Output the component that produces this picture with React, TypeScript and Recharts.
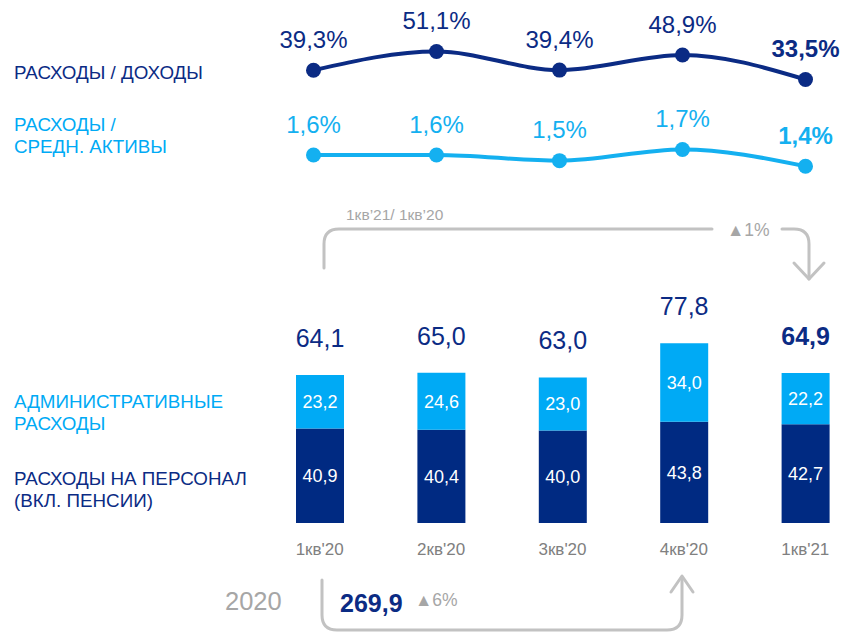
import React from 'react';
import { BarChart, Bar, XAxis, YAxis, LineChart, Line, LabelList } from 'recharts';

const quarters = ["1кв'20", "2кв'20", "3кв'20", "4кв'20", "1кв'21"];
const staffCosts = [40.9, 40.4, 40.0, 43.8, 42.7];
const adminCosts = [23.2, 24.6, 23.0, 34.0, 22.2];
const costIncome = [39.3, 51.1, 39.4, 48.9, 33.5];
const costAssets = [1.6, 1.6, 1.5, 1.7, 1.4];

const NAVY = '#0b2b84';
const DARK = '#002a82';
const LIGHT = '#00aaf5';
const LIGHT_LINE = '#14b0f0';
const GRAY = '#c2c2c2';
const GRAY_TEXT = '#a6a6a6';
const FONT = '"Liberation Sans", Arial, sans-serif';

const fmt = (v: number) => v.toFixed(1).replace('.', ',');

const lineData = quarters.map((q, i) => ({ q, ci: costIncome[i], ca: costAssets[i] }));
const barData = quarters.map((q, i) => ({ q, staff: staffCosts[i], admin: adminCosts[i] }));
const last = quarters.length - 1;

const pctLabel = (color: string) => (props: any) => {
  const { x, y, value, index } = props;
  return (
    <text
      x={x}
      y={y - 31}
      textAnchor="middle"
      dominantBaseline="central"
      fill={color}
      fontSize={24}
      fontWeight={index === last ? 'bold' : 'normal'}
      fontFamily={FONT}
    >
      {fmt(value)}%
    </text>
  );
};

const TotalLabel = (props: any) => {
  const { x, y, width, index } = props;
  const total = staffCosts[index] + adminCosts[index];
  return (
    <text
      x={x + width / 2}
      y={y - 37}
      textAnchor="middle"
      dominantBaseline="central"
      fill={NAVY}
      fontSize={25}
      fontWeight={index === last ? 'bold' : 'normal'}
      fontFamily={FONT}
    >
      {fmt(total)}
    </text>
  );
};

const Annotations = () => (
  <svg width={843} height={632} style={{ position: 'absolute', left: 0, top: 0, pointerEvents: 'none' }}>
    <g fontFamily={FONT} fontSize={18.8}>
      <text x={14} y={72} fill={NAVY} dominantBaseline="central">РАСХОДЫ / ДОХОДЫ</text>
      <text x={14} y={124} fill={LIGHT} dominantBaseline="central">РАСХОДЫ /</text>
      <text x={14} y={146} fill={LIGHT} dominantBaseline="central">СРЕДН. АКТИВЫ</text>
      <text x={14} y={401} fill={LIGHT} dominantBaseline="central">АДМИНИСТРАТИВНЫЕ</text>
      <text x={14} y={423} fill={LIGHT} dominantBaseline="central">РАСХОДЫ</text>
      <text x={14} y={478} fill={NAVY} dominantBaseline="central">РАСХОДЫ НА ПЕРСОНАЛ</text>
      <text x={14} y={500} fill={NAVY} dominantBaseline="central">(ВКЛ. ПЕНСИИ)</text>
    </g>
    {/* comparison arrows */}
    <g fill="none" stroke={GRAY} strokeWidth={3} strokeLinecap="round" strokeLinejoin="round">
      <path d="M 324 268 V 244 Q 324 229 339 229 H 712" />
      <path d="M 782 229 H 794 Q 809 229 809 244 V 279" />
      <path d="M 794 263 L 809 279 L 824 263" />
      <path d="M 322 580 V 615 Q 322 630 337 630 H 667 Q 682 630 682 615 V 577" />
      <path d="M 671 592 L 682 576 L 693 592" />
    </g>
    <g fontFamily={FONT}>
      <text x={346} y={214} fill={GRAY_TEXT} fontSize={15.5} dominantBaseline="central">1кв’21/ 1кв’20</text>
      <text x={727} y={230} fill={GRAY_TEXT} fontSize={17.5} dominantBaseline="central">▲1%</text>
      <text x={225} y={601} fill={GRAY_TEXT} fontSize={25.5} dominantBaseline="central">2020</text>
      <text x={340} y={603} fill={NAVY} fontSize={25} fontWeight="bold" dominantBaseline="central">269,9</text>
      <text x={415} y={600} fill={GRAY_TEXT} fontSize={17.5} dominantBaseline="central">▲6%</text>
    </g>
  </svg>
);

export default function App() {
  return (
    <div style={{ position: 'absolute', left: 0, top: 0, width: 843, height: 632, overflow: 'hidden', background: '#fff', fontFamily: FONT }}>
      <div style={{ position: 'absolute', left: 0, top: 0 }}>
        <LineChart width={867} height={200} data={lineData} margin={{ top: 0, right: 0, bottom: 0, left: 252 }}>
          <XAxis dataKey="q" hide padding={{ left: 61.5, right: 61.5 }} />
          <YAxis yAxisId="ci" hide domain={[-42.3, 83.5]} allowDataOverflow />
          <YAxis yAxisId="ca" hide domain={[0.8, 4.36]} allowDataOverflow />
          <Line
            yAxisId="ci"
            dataKey="ci"
            type="monotone"
            stroke={NAVY}
            strokeWidth={4}
            dot={{ r: 7.5, fill: NAVY, stroke: NAVY, strokeWidth: 0 }}
            isAnimationActive={false}
          >
            <LabelList dataKey="ci" content={pctLabel(NAVY)} />
          </Line>
          <Line
            yAxisId="ca"
            dataKey="ca"
            type="monotone"
            stroke={LIGHT_LINE}
            strokeWidth={4}
            dot={{ r: 7.5, fill: LIGHT_LINE, stroke: LIGHT_LINE, strokeWidth: 0 }}
            isAnimationActive={false}
          >
            <LabelList dataKey="ca" content={pctLabel(LIGHT_LINE)} />
          </Line>
        </LineChart>
      </div>
      <div style={{ position: 'absolute', left: 0, top: 0 }}>
        <BarChart width={866} height={560} data={barData} margin={{ top: 292, right: 0, bottom: 7, left: 259 }}>
          <XAxis
            dataKey="q"
            axisLine={false}
            tickLine={false}
            height={30}
            tickMargin={14}
            tick={{ fill: '#808080', fontSize: 17, fontFamily: FONT }}
          />
          <YAxis hide domain={[0, 100]} allowDataOverflow />
          <Bar dataKey="staff" stackId="a" fill={DARK} barSize={48} isAnimationActive={false}>
            <LabelList dataKey="staff" position="center" fill="#fff" fontSize={18} fontFamily={FONT} formatter={(v: any) => fmt(Number(v))} />
          </Bar>
          <Bar dataKey="admin" stackId="a" fill={LIGHT} barSize={48} isAnimationActive={false}>
            <LabelList dataKey="admin" position="center" fill="#fff" fontSize={18} fontFamily={FONT} formatter={(v: any) => fmt(Number(v))} />
            <LabelList dataKey="admin" content={TotalLabel} />
          </Bar>
        </BarChart>
      </div>
      <Annotations />
    </div>
  );
}
